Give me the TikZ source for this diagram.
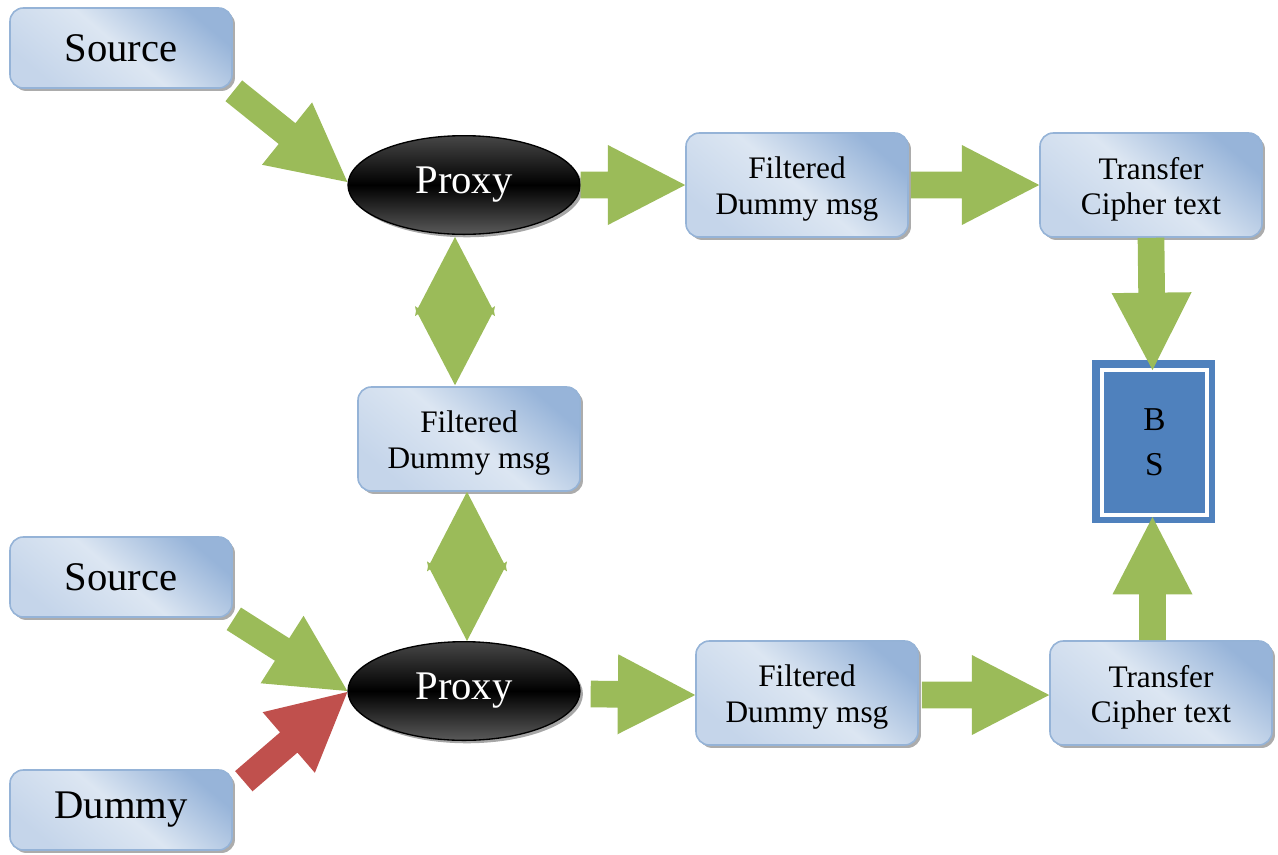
\documentclass[tikz,border=0pt]{standalone}
\usepackage{fontspec}
\setmainfont{Liberation Serif}
\usetikzlibrary{calc,shapes.geometric,shadows}
\definecolor{arrgreen}{HTML}{9BBB59}
\definecolor{arrred}{HTML}{C0504D}
\definecolor{bsblue}{HTML}{4F81BD}
\definecolor{boxborder}{HTML}{95B3D7}
\definecolor{boxdark}{HTML}{97B4D9}
\definecolor{boxlight}{HTML}{DCE6F2}
\definecolor{boxmid}{HTML}{C5D5EA}
\definecolor{proxytop}{HTML}{474747}
\definecolor{proxybot}{HTML}{5A5A5A}
\newcommand\bigtxt{\fontsize{30.5}{36}\selectfont}
\newcommand\midtxt{\fontsize{23.5}{26.5}\selectfont}
\newcommand\tl{\rule{0pt}{22.5pt}}
% block arrow: [colour]{start}{tip}
\newcommand\barrow[3][arrgreen]{%
  \path (#2) coordinate (barS) (#3) coordinate (barE);
  \path ($(barE)!58pt!(barS)$) coordinate (barH);
  \fill[#1] ($(barS)!10pt!90:(barE)$) -- ($(barH)!10pt!-90:(barS)$) -- ($(barH)!30pt!-90:(barS)$)
    -- (barE) -- ($(barH)!30pt!90:(barS)$) -- ($(barH)!10pt!90:(barS)$) -- ($(barS)!10pt!-90:(barE)$) -- cycle;
}
% double (diamond) arrow between two points, vertical
\newcommand\darrow[2]{%
  \path (#1) coordinate (dT) (#2) coordinate (dB);
  \path ($(dT)!0.5!(dB)$) coordinate (dM);
  \fill[arrgreen] (dT) -- ($(dM)+(37,-3)$) -- ($(dM)+(40,-5)$) -- ($(dM)+(39,0)$) -- ($(dM)+(40,5)$) -- ($(dM)+(37,3)$)
    -- (dB) -- ($(dM)+(-37,3)$) -- ($(dM)+(-40,5)$) -- ($(dM)+(-39,0)$) -- ($(dM)+(-40,-5)$) -- ($(dM)+(-37,-3)$) -- cycle;
}
\tikzset{
  box/.style={draw=boxborder, line width=1.2pt, rounded corners=10pt,
    top color=boxdark, bottom color=boxmid, middle color=boxlight, shading angle=-40,
    minimum width=166.5pt, inner sep=0pt, align=center,
    drop shadow={shadow xshift=2.2pt, shadow yshift=-2.2pt, fill=gray!65, opacity=1}},
  bigbox/.style={box, minimum height=60pt, font=\bigtxt},
  midbox/.style={box, minimum height=78pt, font=\midtxt},
  proxy/.style={ellipse, draw=black, line width=1pt, top color=proxytop, bottom color=proxybot,
    middle color=black, minimum width=174pt, minimum height=74pt, inner sep=0pt,
    text=white, font=\bigtxt,
    drop shadow={shadow xshift=2.2pt, shadow yshift=-2.2pt, fill=gray!70, opacity=1}},
  bsnode/.style={fill=bsblue, draw=white, line width=3pt, minimum width=78.75pt,
    minimum height=108.75pt, inner sep=0pt, align=center, font=\fontsize{25}{34}\selectfont}
}
\begin{document}
\begin{tikzpicture}[x=0.75pt,y=-0.75pt]
\useasboundingbox (0,0) rectangle (1278,854);
% nodes
\node[bigbox] (src1) at (121,48) {Source};
\node[proxy] (proxy1) at (464,185) {Proxy};
\node[midbox] (filt1) at (797,185) {\tl Filtered\\Dummy msg};
\node[midbox] (trans1) at (1151,185) {\tl Transfer\\Cipher text};
\node[midbox] (filtm) at (469,439) {\tl Filtered\\Dummy msg};
\node[bigbox] (src2) at (121,577) {Source};
\node[proxy] (proxy2) at (464,691) {Proxy};
\node[midbox] (filt2) at (807,693) {\tl Filtered\\Dummy msg};
\node[midbox] (trans2) at (1161,693) {\tl Transfer\\Cipher text};
\node[bigbox] (dummy) at (121,810) {Dummy};
% BS block
\fill[bsblue] (1092,360) rectangle (1215,523);
\node[bsnode] (bs) at (1154.5,442.5) {B\\S};
% connectors
\barrow{$(src1.south east)+(1,2)$}{$(proxy1.west)+(0,-3)$}
\barrow{proxy1.east}{filt1.west}
\barrow{$(filt1.east)+(2,0)$}{trans1.west}
\barrow{trans1.south}{$(bs.north)+(-2,2)$}
\barrow{$(bs.south |- trans2.north)+(-2,0)$}{$(bs.south)+(-2,0)$}
\barrow{$(proxy2.east)+(10,3)$}{$(filt2.west)+(0,2)$}
\barrow{$(filt2.east)+(3,2)$}{$(trans2.west)+(0,2)$}
\barrow{$(src2.south east)+(1,1)$}{proxy2.west}
\barrow[arrred]{$(dummy.north east)+(11,12)$}{$(proxy2.west)+(0,1)$}
\darrow{$(proxy1.south)+(-9,2)$}{$(filtm.north)+(-14,-1)$}
\darrow{$(filtm.south)+(-2,0)$}{$(proxy2.north)+(3,0)$}
\end{tikzpicture}
\end{document}
